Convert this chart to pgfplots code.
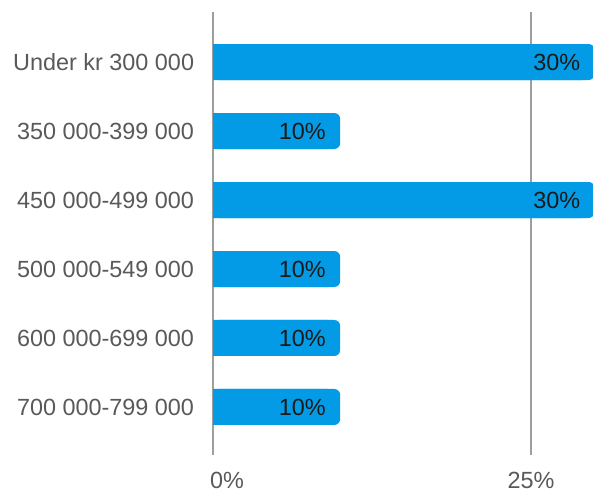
\documentclass[border=0pt]{standalone}
\usepackage{pgfplots}
\usepackage{pgfplotstable}
\pgfplotsset{compat=1.18}
\usepackage{fontspec}
\setmainfont{Liberation Sans}

\definecolor{barblue}{HTML}{039BE5}
\definecolor{labelgray}{HTML}{595959}
\definecolor{axisgray}{HTML}{9E9E9E}
\definecolor{valtext}{HTML}{1A1A1A}

% share per income band
\pgfplotstableread{
y v
0 30
1 10
2 30
3 10
4 10
5 10
}\incomedata

\begin{document}
\begin{tikzpicture}[font=\fontsize{11.7}{14}\selectfont]
\begin{axis}[
  set layers,
  scale only axis,
  width=190.8pt, height=221.5pt,
  xmin=0, xmax=30,
  ymin=-0.725, ymax=5.696,
  y dir=reverse,
  axis lines*=left,
  x axis line style={draw=none},
  y axis line style={draw=axisgray, line width=1.1pt, on layer=axis foreground},
  tick style={draw=none},
  xtick={0,25},
  xticklabels={\makebox[0pt][l]{\kern-1.5pt 0\%}, 25\%},
  xticklabel style={text=labelgray, inner sep=0pt, anchor=north, yshift=-8.5pt},
  ytick={0,...,5},
  yticklabels={Under kr 300 000, 350 000-399 000, 450 000-499 000,
               500 000-549 000, 600 000-699 000, 700 000-799 000},
  yticklabel style={text=labelgray, inner sep=0pt, anchor=east, xshift=-5pt},
  xmajorgrids,
  grid style={draw=axisgray, line width=0.6pt},
  xbar, bar width=18pt,
  /pgf/number format/assume math mode=true,
]
% square-ended fill so only the right end looks rounded
\addplot[draw=none, fill=barblue, bar shift=0pt]
  table[x expr=\thisrow{v}-1, y=y] {\incomedata};
\addplot[draw=none, fill=barblue, bar shift=0pt, rounded corners=3pt,
  point meta=x,
  nodes near coords={\pgfmathprintnumber{\pgfplotspointmeta}\%},
  every node near coord/.append style={anchor=east, inner sep=0pt,
    xshift=-7pt, text=valtext, rounded corners=0pt}]
  table[x=v, y=y] {\incomedata};
\end{axis}
\pgfresetboundingbox
\useasboundingbox (-106.5pt,-19pt) rectangle (190pt,227.5pt);
\end{tikzpicture}
\end{document}
